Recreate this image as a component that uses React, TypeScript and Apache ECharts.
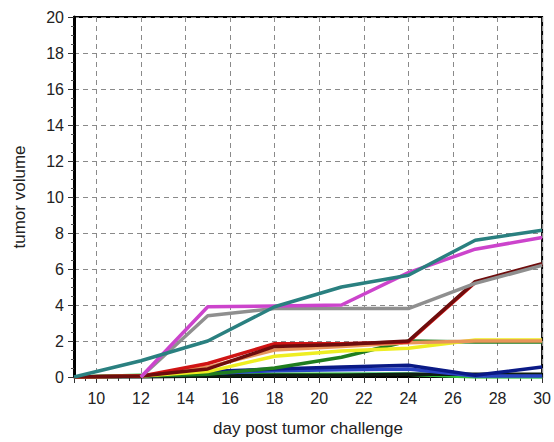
import React, { useEffect, useRef } from "react";
import * as echarts from "echarts";

const days = [9, 12, 15, 18, 21, 24, 27, 30];
const xTickLabels = ["10", "12", "14", "16", "18", "20", "22", "24", "26", "28", "30"];
const yTickLabels = ["0", "2", "4", "6", "8", "10", "12", "14", "16", "18", "20"];

const lightCyan = [0, 0.05, 0.1, 0.1, 0.15, 0.2, 0.05, 0];
const brightGreen = [0, 0.1, 0.15, 0.15, 0.15, 0.15, 0, 0];
const blackLine = [0, 0, 0.05, 0.1, 0.1, 0.15, 0.15, 0.15];
const blue = [0, 0.05, 0.2, 0.35, 0.4, 0.45, 0.05, 0.05];
const navy = [0, 0.05, 0.3, 0.45, 0.55, 0.65, 0.1, 0.55];
const darkGreen = [0, 0.05, 0.15, 0.5, 1.1, 2.0, 1.95, 1.95];
const yellow = [0, 0.05, 0.3, 1.15, 1.45, 1.6, 2.05, 2.05];
const orange = [0, 0.05, 0.55, 1.5, 1.7, 1.9, 2.0, 2.0];
const red = [0, 0.05, 0.75, 1.85, 1.85, 1.95, 5.25, 6.25];
const maroon = [0, 0.05, 0.45, 1.7, 1.8, 2.0, 5.3, 6.3];
const gray = [null, 0, 3.4, 3.8, 3.8, 3.8, 5.2, 6.2];
const magenta = [null, 0, 3.9, 3.95, 4.0, 5.8, 7.1, 7.75];
const teal = [0, 0.9, 2.0, 3.9, 5.0, 5.65, 7.6, 8.15];

const seriesDefs: [string, (number | null)[], string][] = [
  ["light cyan", lightCyan, "#9fe3e3"],
  ["bright green", brightGreen, "#2fbf3a"],
  ["black", blackLine, "#0c1c10"],
  ["blue", blue, "#2a44c4"],
  ["navy", navy, "#0a1a86"],
  ["dark green", darkGreen, "#1f7d1f"],
  ["yellow", yellow, "#eeee22"],
  ["orange", orange, "#e8955a"],
  ["red", red, "#d01414"],
  ["maroon", maroon, "#6e0d0d"],
  ["gray", gray, "#8f8f8f"],
  ["magenta", magenta, "#cc44cc"],
  ["teal", teal, "#2a8080"],
];

const font = "'Liberation Sans', Arial, sans-serif";

export default function App() {
  const ref = useRef<HTMLDivElement>(null);
  useEffect(() => {
    if (!ref.current) return;
    const chart = echarts.init(ref.current, undefined, { renderer: "svg" });
    chart.setOption({
      animation: false,
      backgroundColor: "#ffffff",
      grid: {
        left: 74,
        right: 6,
        top: 17,
        bottom: 63,
        show: true,
        borderColor: "#000",
        borderWidth: 2,
        backgroundColor: "transparent",
      },
      xAxis: {
        type: "value",
        min: 9,
        max: 30,
        splitNumber: 10,
        minInterval: 2,
        maxInterval: 2,
        name: "day post tumor challenge",
        nameLocation: "middle",
        nameGap: 43,
        nameTextStyle: { fontFamily: font, fontSize: 17, color: "#222" },
        axisLine: { show: true, lineStyle: { color: "#000", width: 2 } },
        axisTick: { show: true, length: 6, lineStyle: { color: "#333" } },
        minorTick: { show: true, splitNumber: 4, length: 4, lineStyle: { color: "#333" } },
        axisLabel: {
          showMinLabel: false,
          margin: 13,
          fontFamily: font,
          fontSize: 16,
          color: "#222",
          formatter: (v: number) => (xTickLabels.includes(String(v)) ? String(v) : ""),
        },
        splitLine: { show: true, lineStyle: { color: "#8a8a8a", width: 1, type: [5, 4] } },
      },
      yAxis: {
        type: "value",
        min: 0,
        max: 20,
        interval: 2,
        name: "tumor volume",
        nameLocation: "middle",
        nameRotate: 90,
        nameGap: 46,
        nameTextStyle: { fontFamily: font, fontSize: 17, color: "#222" },
        axisLine: { show: true, lineStyle: { color: "#000", width: 3 } },
        axisTick: { show: true, length: 6, lineStyle: { color: "#333" } },
        minorTick: { show: true, splitNumber: 4, length: 3, lineStyle: { color: "#555" } },
        axisLabel: {
          margin: 10,
          fontFamily: font,
          fontSize: 16,
          color: "#222",
          formatter: (v: number) => (yTickLabels.includes(String(v)) ? String(v) : ""),
        },
        splitLine: { show: true, lineStyle: { color: "#8a8a8a", width: 1, type: [5, 4] } },
      },
      series: seriesDefs.map(([name, vals, color]) => ({
        name,
        type: "line",
        data: days.map((d, i) => [d, vals[i]]),
        showSymbol: false,
        symbol: "none",
        lineStyle: { color, width: 3.5 },
        itemStyle: { color },
        z: 3,
      })),
    });
    return () => chart.dispose();
  }, []);
  return (
    <div
      ref={ref}
      style={{ position: "fixed", left: 0, top: 0, width: 554, height: 442, background: "#fff" }}
    />
  );
}
